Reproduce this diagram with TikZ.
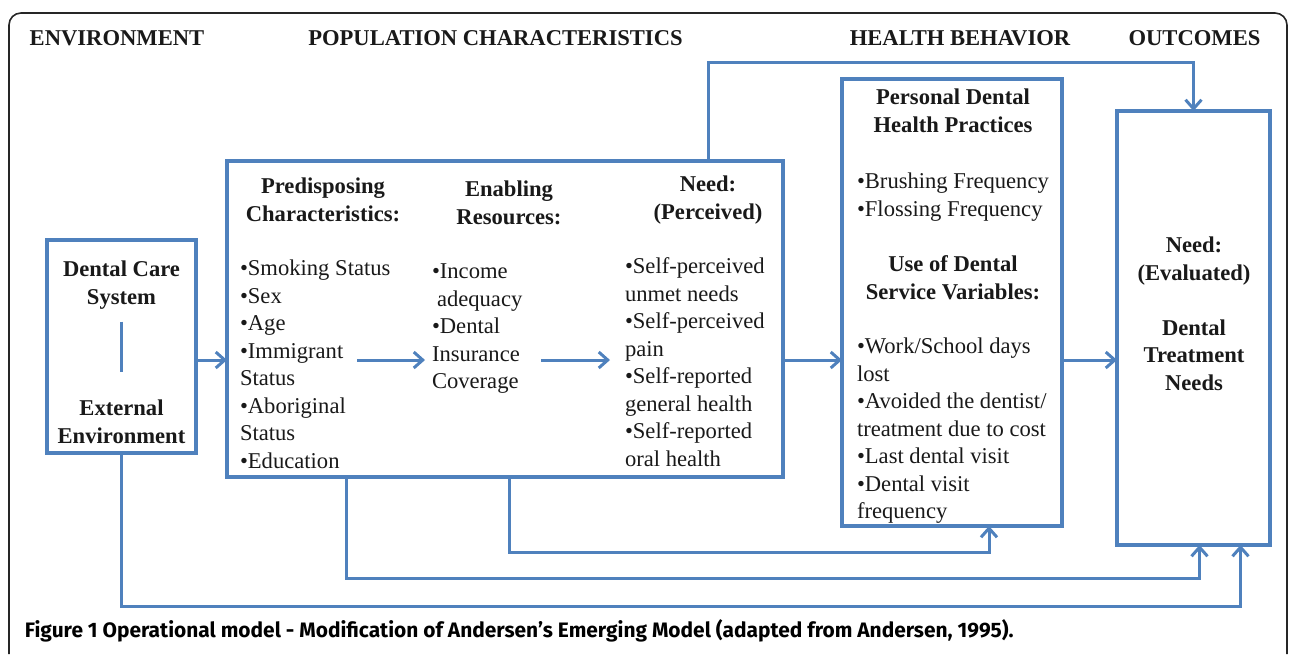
\documentclass[tikz,border=0pt]{standalone}
\usepackage{fontspec}
\setmainfont{Liberation Serif}
\newfontfamily\capfont{Fira Sans}
\usepackage{tikz}
\usetikzlibrary{arrows.meta, positioning}
\definecolor{linkblue}{RGB}{79,129,189}
\definecolor{inkgray}{RGB}{25,25,25}

\begin{document}
\begin{tikzpicture}[x=0.5pt, y=-0.5pt,
    every node/.style={inner sep=0pt, outer sep=0pt, text=inkgray, font=\fontsize{11.3}{13.75}\selectfont},
    box/.style={draw=linkblue, line width=1.6pt, anchor=north west},
    head/.style={font=\fontsize{11.3}{13.75}\selectfont\bfseries, align=center, anchor=base},
    list/.style={align=left, anchor=base west},
    link/.style={draw=linkblue, line width=1.5pt},
    flow/.style={link, -{Straight Barb[length=4.5pt, width=8pt]}}]
        \useasboundingbox (0,0) rectangle (1290,654);
        % Frame
        \draw[black!85, line width=0.8pt, rounded corners=6pt] (9,654) -- (9,13) -- (1287,13) -- (1287,654);
        % Column titles
        \node[head] (envcap) at (117,45.5) {ENVIRONMENT};
        \node[head] (popcap) at (495.5,45.5) {POPULATION CHARACTERISTICS};
        \node[head] (behcap) at (960,45.5) {HEALTH BEHAVIOR};
        \node[head] (outcap) at (1194.5,45.5) {OUTCOMES};
        % Boxes
        \node[box, minimum width=74.5pt, minimum height=106.5pt] (env) at (47,240) {};
        \node[box, minimum width=278pt, minimum height=158pt] (popbox) at (227,161) {};
        \node[box, minimum width=110pt, minimum height=223.5pt] (health) at (842,79) {};
        \node[box, minimum width=76.5pt, minimum height=217pt] (outcome) at (1117,111) {};
        % Environment (base = last line)
        \node[head] (envtop) at (121.5,304) {Dental Care\\System};
        \node[head] (envbot) at (121.5,443) {External\\Environment};
        % Population characteristics
        \node[head] (prehead) at (323,221) {Predisposing\\Characteristics:};
        \node[head] (enbhead) at (509,224) {Enabling\\Resources:};
        \node[head] (needhead) at (708,219) {Need:\\(Perceived)};
        \node[list] (prelist) at (240,468) {•Smoking Status\\•Sex\\•Age\\•Immigrant\\Status\\•Aboriginal\\Status\\•Education};
        \node[list] (enblist) at (432,388.5) {•Income\\\hspace*{2.5pt}adequacy\\•Dental\\Insurance\\Coverage};
        \node[list] (needlist) at (625,466) {•Self-perceived\\unmet needs\\•Self-perceived\\pain\\•Self-reported\\general health\\•Self-reported\\oral health};
        % Health behavior
        \node[head] (practhead) at (953,132) {Personal Dental\\Health Practices};
        \node[list] (practlist) at (857,216) {•Brushing Frequency\\•Flossing Frequency};
        \node[head] (usehead) at (953,299) {Use of Dental\\Service Variables:};
        \node[list] (uselist) at (857,518.5) {•Work/School days\\lost\\•Avoided the dentist/\\treatment due to cost\\•Last dental visit\\•Dental visit\\frequency};
        % Outcomes
        \node[head] (evalhead) at (1194,390) {Need:\\(Evaluated)\\[13.75pt]Dental\\Treatment\\Needs};
        % Arrows
        \coordinate (mid) at (0,360);
        \draw[link] ([yshift=12.5pt]env.center) -- ([yshift=-12.5pt]env.center);
        \draw[flow] (env.east |- mid) -- (popbox.west |- mid);
        \draw[flow] ([xshift=-37.5pt]enblist.west |- mid) -- ([xshift=-3.5pt]enblist.west |- mid);
        \draw[flow] ([xshift=-42pt]needlist.west |- mid) -- ([xshift=-7.5pt]needlist.west |- mid);
        \draw[flow] (popbox.east |- mid) -- (health.west |- mid);
        \draw[flow] (health.east |- mid) -- (outcome.west |- mid);
        \draw[flow] (needhead |- popbox.north) -- ++(0,-99) -| (outcome.north);
        \draw[flow] (enbhead |- popbox.south) -- ++(0,75) -| ([xshift=18.5pt]health.south);
        \draw[flow] ([xshift=11.5pt]prehead |- popbox.south) -- ++(0,101) -| ([xshift=3pt]outcome.south);
        \draw[flow] (env.south) -- ++(0,153) -| ([xshift=23.5pt]outcome.south);
        % Caption
        \node[anchor=base west, text=black, font=\capfont\fontsize{10.45}{12}\selectfont\bfseries] (caption) at (25,637) {Figure 1 Operational model - Modification of Andersen’s Emerging Model (adapted from Andersen, 1995).};
    \end{tikzpicture}
\end{document}
